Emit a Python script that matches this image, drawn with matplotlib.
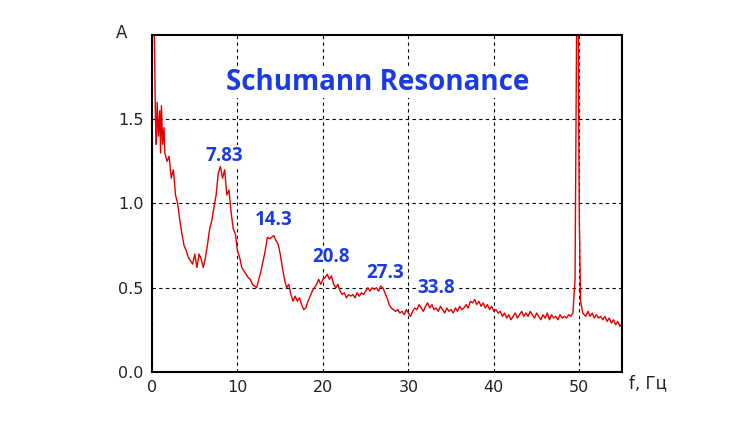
import matplotlib
matplotlib.use("Agg")
import matplotlib.pyplot as plt

freq = [0.2,0.3,0.4,0.5,0.6,0.75,0.9,1.0,1.1,1.25,1.4,1.5,1.75,2.0,2.25,2.5,2.75,3.0,3.25,3.5,3.75,4.0,4.25,4.5,4.75,5.0,5.25,5.5,5.75,6.0,6.25,6.5,6.75,7.0,7.25,7.5,7.75,8.0,8.25,8.5,8.75,9.0,9.25,9.5,9.75,10.0,10.25,10.5,10.75,11.0,11.25,11.5,11.75,12.0,12.25,12.5,12.75,13.0,13.25,13.5,13.75,14.0,14.25,14.5,14.75,15.0,15.25,15.5,15.75,16.0,16.25,16.5,16.75,17.0,17.25,17.5,17.75,18.0,18.25,18.5,18.75,19.0,19.25,19.5,19.75,20.0,20.25,20.5,20.75,21.0,21.25,21.5,21.75,22.0,22.25,22.5,22.75,23.0,23.25,23.5,23.75,24.0,24.25,24.5,24.75,25.0,25.25,25.5,25.75,26.0,26.25,26.5,26.75,27.0,27.25,27.5,27.75,28.0,28.25,28.5,28.75,29.0,29.25,29.5,29.75,30.0,30.25,30.5,30.75,31.0,31.25,31.5,31.75,32.0,32.25,32.5,32.75,33.0,33.25,33.5,33.75,34.0,34.25,34.5,34.75,35.0,35.25,35.5,35.75,36.0,36.25,36.5,36.75,37.0,37.25,37.5,37.75,38.0,38.25,38.5,38.75,39.0,39.25,39.5,39.75,40.0,40.25,40.5,40.75,41.0,41.25,41.5,41.75,42.0,42.25,42.5,42.75,43.0,43.25,43.5,43.75,44.0,44.25,44.5,44.75,45.0,45.25,45.5,45.75,46.0,46.25,46.5,46.75,47.0,47.25,47.5,47.75,48.0,48.25,48.5,48.75,49.0,49.25,49.5,49.7,49.85,50.0,50.15,50.4,50.75,51.0,51.25,51.5,51.75,52.0,52.25,52.5,52.75,53.0,53.25,53.5,53.75,54.0,54.25,54.5,54.75,55.0]
amp = [2.2,1.9,1.5,1.35,1.6,1.4,1.55,1.3,1.58,1.35,1.45,1.3,1.25,1.28,1.15,1.2,1.05,1.0,0.9,0.82,0.75,0.72,0.68,0.66,0.64,0.7,0.62,0.7,0.67,0.62,0.68,0.76,0.85,0.9,0.98,1.05,1.18,1.22,1.15,1.2,1.05,1.08,0.95,0.85,0.82,0.72,0.68,0.62,0.6,0.58,0.56,0.55,0.52,0.51,0.5,0.55,0.6,0.66,0.72,0.8,0.79,0.8,0.81,0.78,0.76,0.7,0.62,0.55,0.5,0.52,0.46,0.42,0.45,0.42,0.44,0.4,0.37,0.38,0.42,0.45,0.48,0.5,0.52,0.55,0.52,0.55,0.56,0.58,0.55,0.57,0.52,0.5,0.52,0.48,0.46,0.47,0.44,0.46,0.45,0.46,0.44,0.47,0.45,0.47,0.46,0.48,0.5,0.48,0.5,0.49,0.5,0.48,0.51,0.5,0.47,0.44,0.40,0.38,0.37,0.36,0.37,0.35,0.36,0.34,0.37,0.35,0.33,0.36,0.38,0.37,0.4,0.38,0.36,0.39,0.41,0.38,0.4,0.37,0.38,0.36,0.39,0.37,0.35,0.38,0.36,0.37,0.35,0.38,0.36,0.39,0.37,0.38,0.40,0.38,0.42,0.41,0.43,0.40,0.42,0.39,0.41,0.38,0.40,0.37,0.39,0.36,0.37,0.35,0.36,0.33,0.35,0.32,0.34,0.31,0.33,0.35,0.32,0.34,0.36,0.33,0.35,0.33,0.36,0.34,0.32,0.35,0.33,0.31,0.34,0.32,0.35,0.31,0.34,0.32,0.33,0.31,0.34,0.32,0.33,0.32,0.34,0.33,0.35,0.55,2.2,2.2,0.9,0.42,0.35,0.33,0.36,0.33,0.35,0.32,0.34,0.32,0.33,0.31,0.33,0.3,0.32,0.29,0.31,0.28,0.3,0.27,0.29]

peak_labels = ["7.83", "14.3", "20.8", "27.3", "33.8"]
peak_x = [8.5, 14.2, 20.9, 27.3, 33.3]
peak_y = [1.28, 0.9, 0.68, 0.59, 0.5]
xticks = [0, 10, 20, 30, 40, 50]
yticks = [0.0, 0.5, 1.0, 1.5]

fig = plt.figure(figsize=(7.5, 4.22), dpi=100)
ax = fig.add_axes([0.2027, 0.1185, 0.6267, 0.7986])
ax.plot(freq, amp, color="#e00000", lw=1.0, zorder=2)
ax.set_xlim(0, 55)
ax.set_ylim(0, 2.0)
ax.set_xticks(xticks)
ax.set_yticks(yticks)
ax.set_yticklabels([f"{v:.1f}" for v in yticks])
ax.tick_params(length=0, labelsize=11.5, colors="#222222", pad=6)
ax.grid(True, ls=(0, (3, 3)), color="black", lw=0.8, zorder=0)
ax.set_axisbelow(True)
for s in ax.spines.values():
    s.set_linewidth(1.5)
blue = "#1a3be0"
bb = dict(facecolor="white", edgecolor="none", pad=1)
for t, x, y in zip(peak_labels, peak_x, peak_y):
    ax.text(x, y, t, color=blue, fontsize=13.5, fontweight="bold", family="Open Sans",
            ha="center", va="center", bbox=bb, zorder=1)
ax.text(0.48, 0.86, "Schumann Resonance", transform=ax.transAxes, color=blue,
        fontsize=20, fontweight="bold", family="Open Sans", ha="center", va="center",
        bbox=bb, zorder=1)
fig.text(122/750, 1-33/422, "A", fontsize=12, ha="center", va="center", color="#222222")
fig.text(648/750, 1-383/422, "f, Гц", fontsize=12, ha="center", va="center", color="#222222")
fig.savefig("out.png", dpi=100)
